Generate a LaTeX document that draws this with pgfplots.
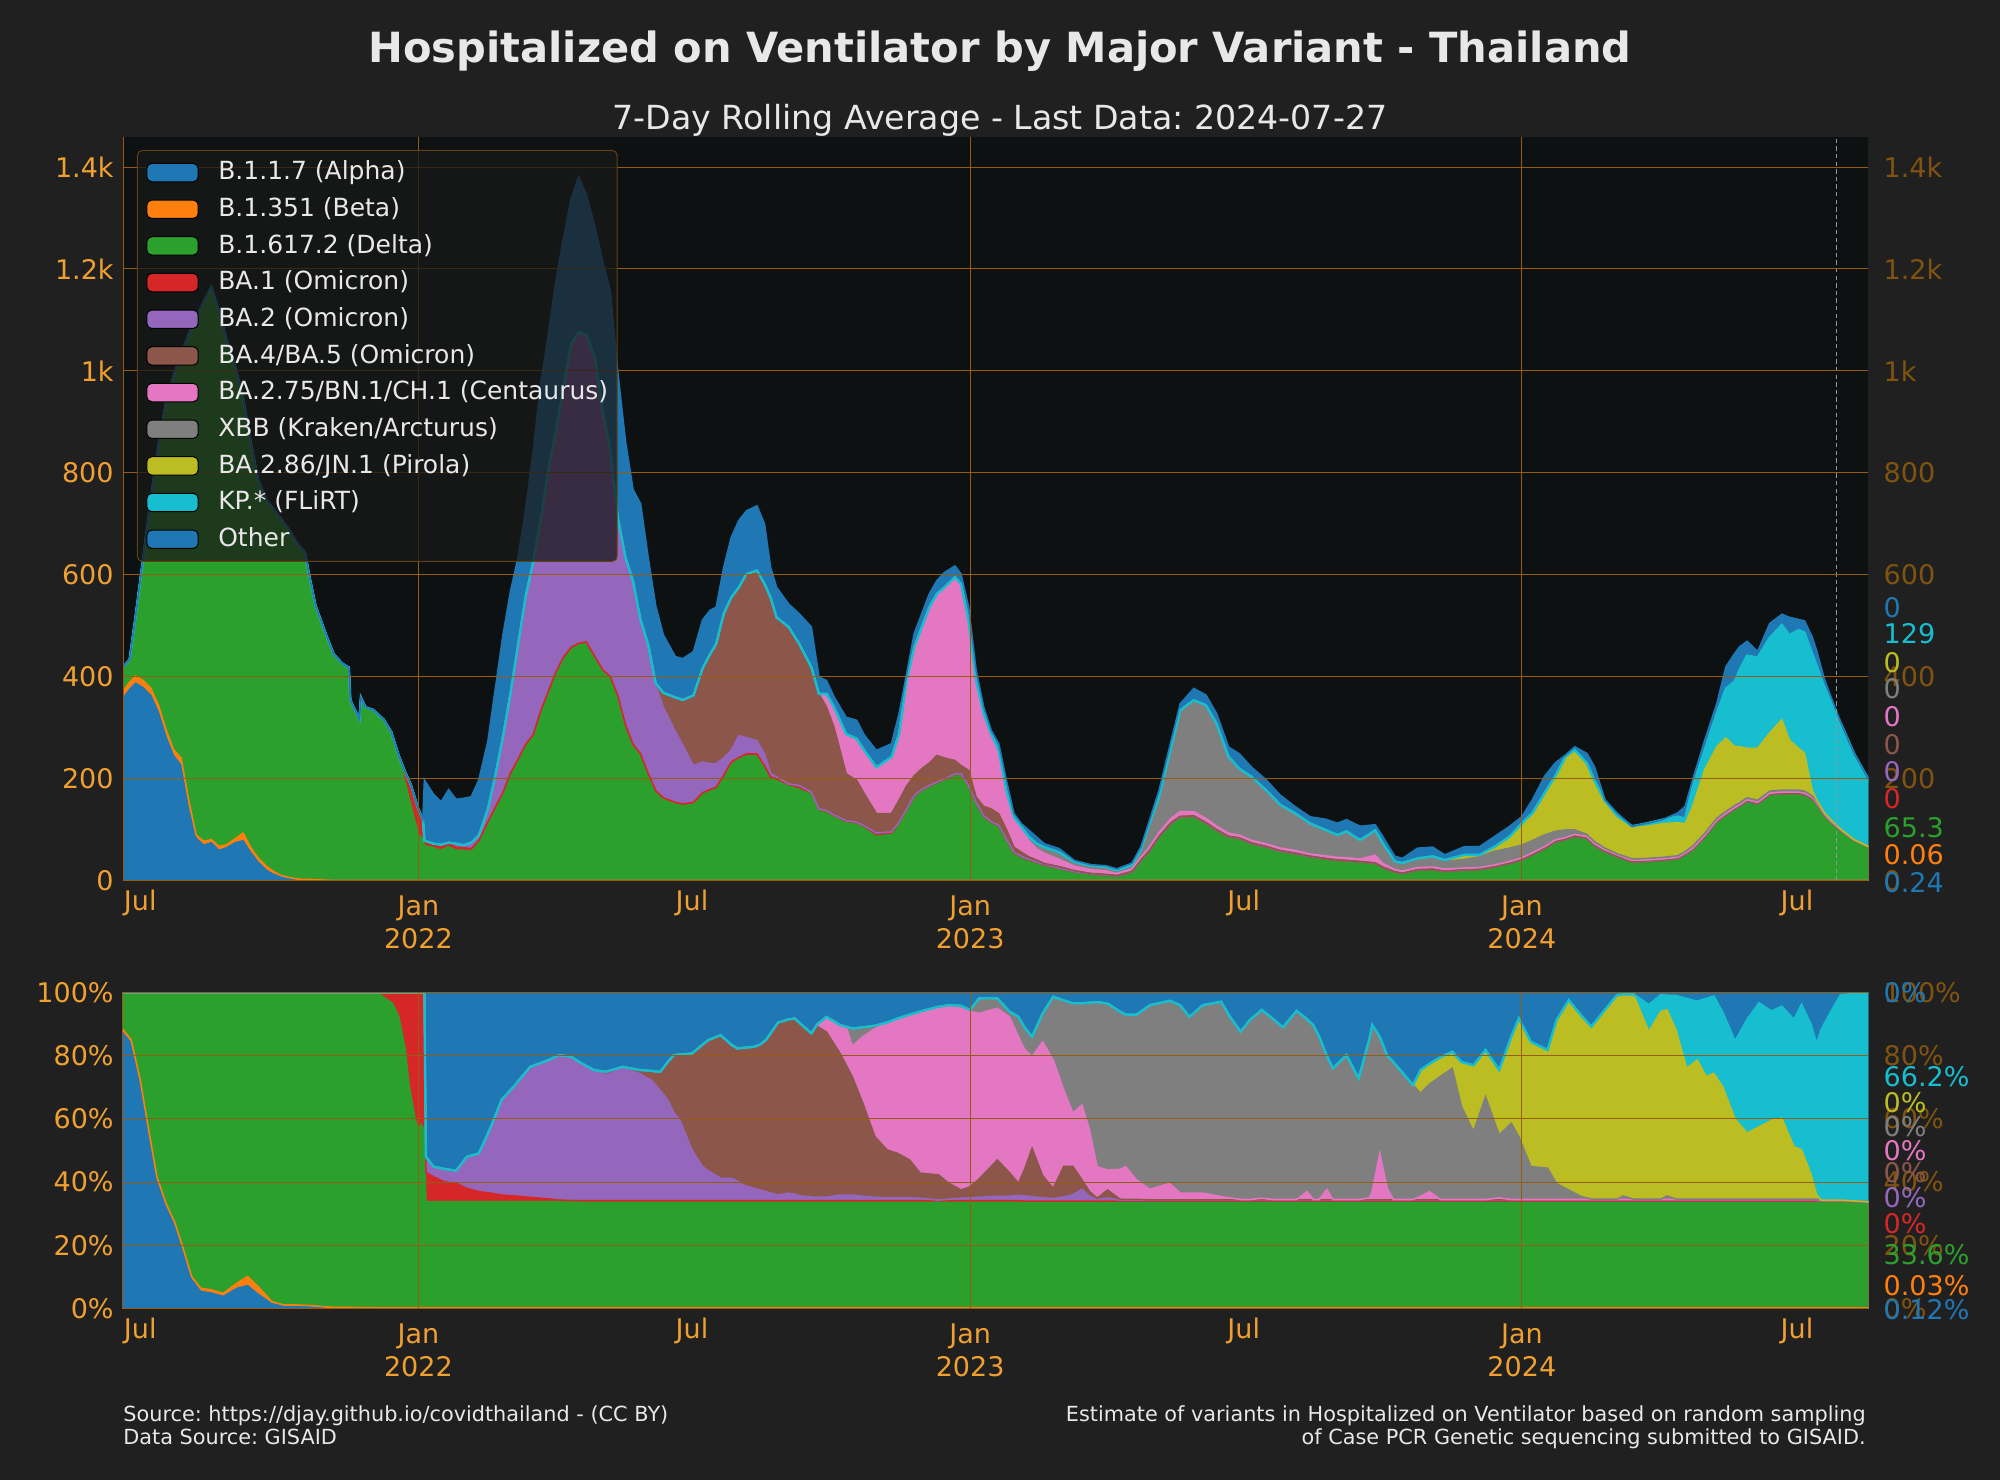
\documentclass[border=0pt]{standalone}
\usepackage{fontspec}
\setmainfont{DejaVu Sans}
\usepackage{pgfplots}
\usepackage{pgfplotstable}
\pgfplotsset{compat=1.18}
\frenchspacing

\definecolor{figbg}{RGB}{32,32,32}
\definecolor{plotbg}{RGB}{13,17,17}
\definecolor{tickor}{RGB}{240,160,48}
\definecolor{tickbr}{RGB}{128,84,16}
\definecolor{gridor}{RGB}{150,92,20}
\definecolor{txt}{RGB}{232,232,232}
\definecolor{legbd}{RGB}{95,65,20}
\definecolor{legbg}{RGB}{25,25,25}
\definecolor{dashc}{RGB}{150,150,150}
\definecolor{cAlpha}{HTML}{1F77B4}
\definecolor{cBeta}{HTML}{FF7F0E}
\definecolor{cDelta}{HTML}{2CA02C}
\definecolor{cBAone}{HTML}{D62728}
\definecolor{cBAtwo}{HTML}{9467BD}
\definecolor{cBAfour}{HTML}{8C564B}
\definecolor{cCent}{HTML}{E377C2}
\definecolor{cXBB}{HTML}{7F7F7F}
\definecolor{cPir}{HTML}{BCBD22}
\definecolor{cKP}{HTML}{17BECF}
\definecolor{cOther}{HTML}{1F77B4}

% days since 2022-01-01 ; hospitalized on ventilator (7-day avg) per variant
\pgfplotstableread{
d alpha beta delta ba1 ba2 ba45 ba275 xbb jn1 kp other
-196 354 14 48 0 0 0 0 0 0 0 0
-191 375 14 45 0 0 0 0 0 0 0 0
-187 387 14 119 0 0 0 0 0 0 0 0
-182 378 14 242 0 0 0 0 0 0 0 0
-177 363 14 371 0 0 0 0 0 0 0 0
-172 330 14 509 0 0 0 0 0 0 0 0
-167 282 14 642 0 0 0 0 0 0 0 0
-162 245 12 733 0 0 0 0 0 0 0 0
-157 226 14 790 0 0 0 0 0 0 0 0
-152 140 18 913 0 0 0 0 0 0 0 0
-147 83 6 1016 0 0 0 0 0 0 0 0
-142 69 8 1058 0 0 0 0 0 0 0 0
-137 74 6 1084 0 0 0 0 0 0 0 0
-132 59 8 1052 0 0 0 0 0 0 0 0
-127 64 6 992 0 0 0 0 0 0 0 0
-121 74 8 923 0 0 0 0 0 0 0 0
-116 78 15 855 0 0 0 0 0 0 0 0
-111 55 10 797 0 0 0 0 0 0 0 0
-106 36 8 742 0 0 0 0 0 0 0 0
-101 21 8 719 0 0 0 0 0 0 0 0
-96 12 6 711 0 0 0 0 0 0 0 0
-91 7 3 700 0 0 0 0 0 0 0 0
-86 4 2 684 0 0 0 0 0 0 0 0
-80 2 1 657 0 0 0 0 0 0 0 0
-75 1 1 642 0 0 0 0 0 0 0 0
-72 1 1 594 0 0 0 0 0 0 0 0
-68 0.5 1 537.5 0 0 0 0 0 0 0 0
-61 0 0.5 481.5 0 0 0 0 0 0 0 0
-56 0 0.3 443.7 0 0 0 0 0 0 0 0
-50 0 0.3 424.7 0 0 0 0 0 0 0 0
-46 0 0.3 417.7 0 0 0 0 0 0 0 0
-45 0 0.3 353.7 0 0 0 0 0 0 0 0
-39 0 0.3 315.7 0 0 0 0 0 0 0 0
-38 0 0.3 358.7 0 0 0 0 0 0 0 0
-35 0 0.3 339.7 0 0 0 0 0 0 0 0
-30 0 0.3 334.7 0 0 0 0 0 0 0 0
-23 0 0.3 315.7 0 0 0 0 0 0 0 0
-18 0 0.3 291.7 0 0 0 0 0 0 0 0
-13 0 0.3 241.7 3 0 0 0 0 0 0 0
-9 0 0.3 194.7 20 0 0 0 0 0 0 0
-5 0 0.3 147.7 40 0 0 0 0 0 0 0
0 0 0.3 89.7 50 0 0 0 0 0 0 0
3 0 0.3 80.7 40 0 0 0 0 0 0 0
4 0.2 0.1 68 8 2 0 0 0 0 0 119
10 0.2 0.1 64 6 2 0 0 0 0 0 97
15 0.2 0.1 59 6 5 0 0 0 0 0 84
20 0.2 0.1 66 6 2 0 0 0 0 0 104
25 0.2 0.1 59 6 7 0 0 0 0 0 87
30 0.2 0.1 59 5 5 0 0 0 0 0 92
35 0.2 0.1 57 5 12 0 0 0 0 0 90
40 0.2 0.1 74 4 10 0 0 0 0 0 109
46 0.2 0.1 111 4 25 0 0 0 0 0 133
51 0.2 0.1 140 4 63 0 0 0 0 0 171
56 0.2 0.1 169 4 110 0 0 0 0 0 199
61 0.2 0.1 207 4 157 0 0 0 0 0 200
66 0.2 0.1 235 3 225 0 0 0 0 0 171
71 0.2 0.1 264 3 291 0 0 0 0 0 171
76 0.2 0.1 283 3 339 0 0 0 0 0 218
81 0.2 0.1 330 3 377 0 0 0 0 0 266
86 0.2 0.1 368 3 434 0 0 0 0 0 266
91 0.2 0.1 406 3 472 0 0 0 0 0 295
96 0.2 0.1 435 3 529 0 0 0 0 0 294
101 0.2 0.1 454 3 595 0 0 0 0 0 285
106 0.2 0.1 462 3 611 0 0 0 0 0 304
111 0.2 0.1 465 3 602 0 0 0 0 0 277
117 0.2 0.1 435 3 586 0 0 0 0 0 256
122 0.2 0.1 410 3 506 0 0 0 0 0 295
127 0.2 0.1 397 3 443 0 0 0 0 0 314
132 0.2 0.1 359 3 348 0 0 0 0 0 285
137 0.2 0.1 302 3 329 0 0 0 0 0 228
142 0.2 0.1 264 3 320 0 0 0 0 0 180
147 0.2 0.1 245 3 263 0 0 0 0 0 228
152 0.2 0.1 207 3 253 0 0 0 0 0 171
157 0.2 0.1 173 3 206 5 0 0 0 0 152
162 0.2 0.1 159 3 178 28 0 0 0 0 114
170 0.2 0.1 150 3 139 67 0 0 0 0 80
175 0.2 0.1 147 3 115 89 0 0 0 0 81
182 0.2 0.1 150 3 72 138 0 0 0 0 86
188 0.2 0.1 169 3 60 184 0 0 0 0 95
193 0.2 0.1 175 3 51 215 0 0 0 0 86
197 0.2 0.1 180 3 46 235 0 0 0 0 72
202 0.2 0.1 203 3 34 283 0 0 0 0 91
207 0.2 0.1 229 3 23 300 0 0 0 0 118
212 0.2 0.1 238 3 43 291 0 0 0 0 131
217 0.2 0.1 245 3 32 321 0 0 0 0 124
224 0.2 0.1 245 3 26 334 0 0 0 0 127
229 0.2 0.1 222 3 23 334 0 0 0 0 117
233 0.2 0.1 200 3 7 345 0 0 0 0 59
237 0.2 0.1 196 3 4 313 0 0 0 0 59
245 0.2 0.1 186 2 1 308 0 0 0 0 45
252 0.2 0.1 180 2 4 278 0 0 0 0 59
260 0.2 0.1 170 2 1 245 0 0 0 0 79
265 0.2 0.1 137 2 1 226 0 0 0 0 33
270 0.2 0.1 134 2 1 203 26 0 0 0 26
275 0.2 0.1 125 2 1 172 40 0 0 0 20
283 0.2 0.1 114 2 1 92 78 0 0 0 33
290 0.2 0.1 111 2 1 82 82 0 0 0 36
295 0.2 0.1 104 2 1 63 85 0 0 0 30
303 0.2 0.1 88 2 3 38 91 0 0 0 33
313 0.2 0.1 91 2 2 36 111 0 0 0 26
318 0.2 0.1 111 2 1 43 130 0 0 0 40
323 0.2 0.1 137 2 1 45 207 0 0 0 13
328 0.2 0.1 163 2 1 39 252 0 0 0 27
333 0.2 0.1 175 2 1 41 278 0 0 0 26
338 0.2 0.1 183 2 1 44 306 0 0 0 26
343 0.2 0.1 190 2 1 52 317 0 0 0 26
348 0.2 0.1 196 2 1 41 335 0 0 0 29
355 0.2 0.1 206 2 1 26 360 0 0 0 22
359 0.2 0.1 206 2 1 16 357 0 0 0 19
364 0.2 0.1 183 2 1 30 294 0 0 0 26
369 0.2 0.1 150 2 1 10 229 0 0 0 20
374 0.2 0.1 124 2 1 18 182 0 0 0 13
379 0.2 0.1 112 2 1 25 147 0 0 0 7
384 0.2 0.1 105 2 1 22 125 0 0 0 13
389 0.2 0.1 78 2 1 19 76 0 0 0 20
394 0.2 0.1 52 2 1 10 59 0 0 0 7
399 0.2 0.1 45 1 1 8 45 5 0 0 6
404 0.2 0.1 39 1 1 5 31 8 0 0 13
409 0.2 0.1 34 1 1 4 22 10 0 0 13
414 0.2 0.1 29 1 1 2 20 12 0 0 7
424 0.2 0.1 23 0.5 0.5 3 14 14 0 0 7
434 0.2 0.1 16 0.5 0.5 2 9 8 0 0 3
445 0.2 0.1 12 0.3 0.3 1 7 8 0 0 2
455 0.2 0.1 10 0.3 0.3 1 7 8 0 0 2
462 0.2 0.1 8 0.3 0.3 1 4 6 0 0 3
472 0.2 0.1 16 0.3 0.3 1 5 7 0 0 4
478 0.2 0.1 39 0.3 0.3 1 5 14 0 0 6
483 0.2 0.1 55 0.3 0.3 1 6 43 0 0 6
490 0.2 0.1 85 0.3 0.3 1 7 70 0 0 13
498 0.2 0.1 112 0.3 0.3 1 8 140 0 0 13
504 0.2 0.1 124 0.3 0.3 1 9 199 0 0 13
513 0.2 0.1 125 0.3 0.3 1 8 219 0 0 23
521 0.2 0.1 112 0.3 0.3 1 8 222 0 0 20
528 0.2 0.1 98 0.3 0.3 1 7 201 0 0 20
536 0.2 0.1 85 0.3 0.3 1 6 150 0 0 19
543 0.2 0.1 82 0.3 0.3 1 5 131 0 0 29
551 0.2 0.1 72 0.3 0.3 1 5 125 0 0 19
561 0.2 0.1 65 0.3 0.3 1 5 105 0 0 20
570 0.2 0.1 57 0.3 0.3 1 5 85 0 0 19
580 0.2 0.1 52 0.3 0.3 1 5 73 0 0 13
590 0.2 0.1 46 0.3 0.3 1 4 60 0 0 13
600 0.2 0.1 42 0.3 0.3 0.5 5 51 0 0 21
608 0.2 0.1 39 0.3 0.3 0.5 5 44 0 0 23
614 0.2 0.1 38 0.3 0.3 0.5 5 52 0 0 23
623 0.2 0.1 36 0.3 0.3 0.5 5 37 0 0 27
633 0.2 0.1 33 0.3 0.3 0.5 15 49 0 0 11
638 0.2 0.1 25 0.3 0.3 0.5 7 40 0 0 13
646 0.2 0.1 16 0.3 0.3 0.5 4 16 0 0 10
651 0.2 0.1 13 0.3 0.3 0.5 4 16 0 0 9
661 0.2 0.1 20 0.3 0.3 0.5 4 16 2 0 20
671 0.2 0.1 21 0.3 0.3 0.5 4 18 3 0 18
679 0.2 0.1 17 0.3 0.3 0.5 4 15 3 0 10
692 0.2 0.1 20 0.3 0.3 0.5 3 17 9 0 16
702 0.2 0.1 21 0.3 0.3 0.5 3 21 4 0 16
712 0.2 0.1 26 0.3 0.3 0.5 3 27 9 0 20
722 0.2 0.1 33 0.3 0.3 0.5 3 26 23 0 20
730 0.2 0.1 40 0.3 0.3 0.5 3 25 43 0 13
737 0.2 0.1 50 0.3 0.3 0.5 3 24 54 0 26
745 0.2 0.1 62 0.3 0.3 0.5 3 23 82 0 33
752 0.2 0.1 75 0.3 0.3 0.5 3 17 108 0 26
759 0.2 0.1 80 0.3 0.3 0.5 3 15 144 0 3
765 0.2 0.1 86 0.3 0.3 0.5 3 9 157 0 6
773 0.2 0.1 82 0.3 0.3 0.5 3 4 140 0 19
778 0.2 0.1 68 0.3 0.3 0.5 3 4 120 0 27
785 0.2 0.1 56 0.3 0.3 0.5 3 3 93 0 2
793 0.2 0.1 46 0.3 0.3 0.5 3 2 75 0 5
803 0.2 0.1 36 0.3 0.3 0.5 2 3 62 2 0
813 0.2 0.1 37 0.3 0.3 0.5 2 3 63 6 0
823 0.2 0.1 39 0.3 0.3 0.5 2 3 66 8 0
833 0.2 0.1 42 0.3 0.3 0.5 2 3 65 12 7
838 0.2 0.1 50 0.3 0.3 0.5 2 3 55 10 24
843 0.2 0.1 60 0.3 0.3 0.5 2 4 78 39 13
851 0.2 0.1 85 0.3 0.3 0.5 2 4 125 39 19
859 0.2 0.1 115 0.3 0.3 0.5 2 4 140 66 19
865 0.2 0.1 128 0.3 0.3 0.5 2 4 144 97 43
871 0.2 0.1 140 0.3 0.3 0.5 2 4 115 129 55
874 0.2 0.1 145 0.3 0.3 0.5 2 4 110 151 45
879 0.2 0.1 155 0.3 0.3 0.5 2 4 97 182 28
886 0.2 0.1 150 0.3 0.3 0.5 2 4 102 178 12
894 0.2 0.1 168 0.3 0.3 0.5 2 4 114 187 28
902 0.2 0.1 170 0.3 0.3 0.5 2 4 138 186 21
907 0.2 0.1 170 0.3 0.3 0.5 2 4 98 206 35
913 0.2 0.1 170 0.3 0.3 0.5 2 4 82 232 21
917 0.2 0.1 168 0.3 0.3 0.5 2 4 74 237 23
922 0.2 0.1 160 0.3 0.3 0.5 2 3 11 268 33
925 0.2 0.1 150 0.3 0.3 0.5 1 3 3 263 30
930 0.2 0.1 128 0.3 0.3 0.5 1 2 1 247 16
935 0.2 0.1 112 0.3 0.3 0.5 1 2 1 229 10
942 0.2 0.1 95 0.2 0.2 0.3 0.5 1 0.5 204 0.5
950 0.2 0.1 78 0.1 0.1 0.2 0.3 0.5 0.3 168 0.3
960 0.24 0.06 65.3 0 0 0 0.1 0.1 0.1 129 0.1
}\toptab

% share of each variant, percent
\pgfplotstableread{
d alpha beta delta ba1 ba2 ba45 ba275 xbb jn1 kp other
-196 87.5 1.1 11.4 0 0 0 0 0 0 0 0
-190 84.0 1.0 15.0 0 0 0 0 0 0 0 0
-184 71.3 1.0 27.7 0 0 0 0 0 0 0 0
-178 54.4 1.0 44.6 0 0 0 0 0 0 0 0
-173 40.7 1.0 58.3 0 0 0 0 0 0 0 0
-167 32.3 1.0 66.7 0 0 0 0 0 0 0 0
-161 26.0 1.0 73.0 0 0 0 0 0 0 0 0
-156 18.6 1.0 80.4 0 0 0 0 0 0 0 0
-150 9.1 1.0 89.9 0 0 0 0 0 0 0 0
-144 5.4 1.0 93.6 0 0 0 0 0 0 0 0
-137 4.9 1.0 94.1 0 0 0 0 0 0 0 0
-129 3.8 1.0 95.2 0 0 0 0 0 0 0 0
-120 6.4 1.6 92.0 0 0 0 0 0 0 0 0
-113 7.2 2.9 89.9 0 0 0 0 0 0 0 0
-106 4.5 2.4 93.1 0 0 0 0 0 0 0 0
-97 1.5 0.7 97.8 0 0 0 0 0 0 0 0
-89 0.8 0.3 98.9 0 0 0 0 0 0 0 0
-80 0.8 0.3 98.9 0 0 0 0 0 0 0 0
-70 0.4 0.5 99.1 0 0 0 0 0 0 0 0
-59 0.1 0.3 99.6 0 0 0 0 0 0 0 0
-25 0.1 0.1 99.0 0.8 0 0 0 0 0 0 0
-17 0.1 0.1 96.3 3.5 0 0 0 0 0 0 0
-13 0.1 0.1 92.1 7.7 0 0 0 0 0 0 0
-9 0.1 0.1 82.7 17.1 0 0 0 0 0 0 0
-6 0.1 0.1 70.0 29.8 0 0 0 0 0 0 0
-2 0.1 0.1 59.4 40.4 0 0 0 0 0 0 0
0 0.1 0.1 56.3 43.5 0 0 0 0 0 0 0
2 0.1 0.1 58.0 41.8 0 0 0 0 0 0 0
4 0.1 0.1 55.8 44.0 0 0 0 0 0 0 0
5 0.1 0.1 33.6 9.2 5.0 0 0 0 0 0 52.0
10 0.1 0.1 33.6 7.9 3.2 0 0 0 0 0 55.1
17 0.1 0.1 33.6 6.3 4.1 0 0 0 0 0 55.8
25 0.1 0.1 33.6 5.8 4.0 0 0 0 0 0 56.4
32 0.1 0.1 33.6 4.2 10.0 0 0 0 0 0 52.0
40 0.1 0.1 33.6 3.2 12.1 0 0 0 0 0 50.9
48 0.1 0.1 33.6 2.7 21.0 0 0 0 0 0 42.5
55 0.1 0.1 33.6 2.1 30.1 0 0 0 0 0 34.0
63 0.1 0.1 33.6 1.8 34.6 0 0 0 0 0 29.8
74 0.1 0.1 33.6 1.4 41.3 0 0 0 0 0 23.5
86 0.1 0.1 33.6 0.9 43.9 0 0 0 0 0 21.4
93 0.1 0.1 33.6 0.5 45.9 0 0 0 0 0 19.8
101 0.1 0.1 33.6 0.4 45.5 0 0 0 0 0 20.3
108 0.1 0.1 33.6 0.3 43.5 0 0 0 0 0 22.4
116 0.1 0.1 33.6 0.3 41.4 0 0 0 0 0 24.5
124 0.1 0.1 33.6 0.3 39.8 1.0 0 0 0 0 25.1
135 0.1 0.1 33.6 0.3 41.9 0.5 0 0 0 0 23.5
146 0.1 0.1 33.6 0.3 40.3 1.1 0 0 0 0 24.5
154 0.1 0.1 33.6 0.3 38.2 2.9 0 0 0 0 24.8
160 0.1 0.1 33.6 0.3 34.9 5.9 0 0 0 0 25.1
165 0.1 0.1 33.6 0.3 31.9 12.0 0 0 0 0 22.0
169 0.1 0.1 33.6 0.3 27.9 18.2 0 0 0 0 19.8
173 0.1 0.1 33.6 0.3 25.5 20.8 0 0 0 0 19.6
181 0.1 0.1 33.6 0.3 16.1 30.5 0 0 0 0 19.3
188 0.1 0.1 33.6 0.3 10.8 38.6 0 0 0 0 16.5
192 0.1 0.1 33.6 0.3 9.4 41.5 0 0 0 0 15.0
200 0.1 0.1 33.6 0.3 7.1 45.3 0 0 0 0 13.5
207 0.1 0.1 33.6 0.3 7.1 42.3 0 0 0 0 16.5
211 0.1 0.1 33.6 0.3 6.2 42.0 0 0 0 0 17.7
215 0.1 0.1 33.6 0.3 5.0 43.4 0 0 0 0 17.5
222 0.1 0.1 33.6 0.3 3.9 44.8 0 0 0 0 17.2
226 0.1 0.1 33.6 0.3 3.4 46.0 0 0 0 0 16.5
230 0.1 0.1 33.6 0.3 2.9 48.0 0 0 0 0 15.0
238 0.1 0.1 33.6 0.3 1.8 54.6 0 0 0 0 9.5
245 0.1 0.1 33.6 0.3 2.4 55.0 0 0 0 0 8.5
249 0.1 0.1 33.6 0.3 2.1 55.6 0 0 0 0 8.2
253 0.1 0.1 33.6 0.3 1.5 54.4 0 0 0 0 10.0
260 0.1 0.1 33.6 0.3 1.2 51.8 0 0 0 0 12.9
264 0.1 0.1 33.6 0.3 1.1 54.0 0.8 0 0 0 10.0
270 0.1 0.1 33.6 0.3 1.1 52.3 4.8 0 0 0 7.7
279 0.1 0.1 33.6 0.3 1.8 44.8 9.0 0 0 0 10.3
283 0.1 0.1 33.6 0.3 1.8 41.1 12.2 0 0 0 10.8
287 0.1 0.1 33.6 0.3 1.8 37.5 9.6 5.6 0 0 11.4
294 0.1 0.1 33.6 0.3 1.4 29.5 21.0 3.0 0 0 11.0
302 0.1 0.1 33.6 0.3 1.1 19.2 34.1 1.0 0 0 10.5
310 0.1 0.1 33.6 0.3 0.9 15.2 40.3 0 0 0 9.5
317 0.1 0.1 33.6 0.3 0.9 14.1 42.7 0 0 0 8.2
325 0.1 0.1 33.6 0.3 0.9 12.0 46.0 0 0 0 7.0
332 0.1 0.1 33.6 0.3 0.8 7.9 51.2 0 0 0 6.0
344 0.1 0.1 33.6 0.3 0.2 8.0 53.2 0 0 0 4.5
351 0.1 0.1 33.6 0.3 0.5 5.0 55.9 0.5 0 0 4.0
359 0.1 0.1 33.6 0.3 0.8 2.6 57.5 0.8 0 0 4.2
365 0.1 0.1 33.6 0.3 0.9 3.5 55.5 0.5 0 0 5.5
371 0.1 0.1 33.6 0.3 1.1 5.8 52.4 4.8 0 0 1.8
383 0.1 0.1 33.6 0.3 1.4 11.5 48.0 3.2 0 0 1.8
391 0.1 0.1 33.6 0.3 1.4 7.5 49.3 1.7 0 0 6.0
397 0.1 0.1 33.6 0.3 1.7 3.8 46.4 6.3 0 0 7.7
401 0.1 0.1 33.6 0.2 1.6 8.4 38.0 7.0 0 0 11.0
406 0.1 0.1 33.6 0.2 1.4 15.3 29.0 6.3 0 0 14.0
413 0.1 0.1 33.6 0.2 1.0 7.0 42.4 9.0 0 0 6.6
420 0.1 0.1 33.6 0.2 0.8 3.2 40.6 20.1 0 0 1.3
427 0.1 0.1 33.6 0.2 1.3 9.7 24.1 28.4 0 0 2.5
433 0.1 0.1 33.6 0.2 2.0 9.0 16.8 34.8 0 0 3.4
439 0.1 0.1 33.6 0.2 3.7 3.0 23.7 32.2 0 0 3.4
444 0.1 0.1 33.6 0.2 1.5 1.5 19.5 40.3 0 0 3.2
449 0.1 0.1 33.6 0.2 0.5 0.4 10.0 52.1 0 0 3.0
456 0.1 0.1 33.6 0.2 1.0 2.5 6.3 52.7 0 0 3.5
464 0.1 0.1 33.6 0.2 0.3 0.3 9.4 50.0 0 0 6.0
468 0.1 0.1 33.6 0.2 0.3 0.2 10.4 48.1 0 0 7.0
475 0.1 0.1 33.6 0.2 0.2 0.3 6.2 52.3 0 0 7.0
484 0.1 0.1 33.6 0.2 0.2 0.2 3.3 58.3 0 0 4.0
497 0.1 0.1 33.6 0.2 0.2 0.2 5.2 57.8 0 0 2.6
504 0.1 0.1 33.6 0.2 0.2 0.2 2.1 59.5 0 0 4.0
510 0.1 0.1 33.6 0.2 0.2 0.2 2.1 55.8 0 0 7.7
519 0.1 0.1 33.6 0.2 0.2 0.2 2.1 59.5 0 0 4.0
531 0.1 0.1 33.6 0.2 0.2 0.2 1.0 61.7 0 0 2.9
537 0.1 0.1 33.6 0.2 0.2 0.2 0.6 57.3 0 0 7.7
544 0.1 0.1 33.6 0.2 0.2 0.2 0.1 53.1 0 0 12.4
550 0.1 0.1 33.6 0.2 0.2 0.2 0.1 56.8 0 0 8.7
558 0.1 0.1 33.6 0.2 0.2 0.2 0.5 59.6 0 0 5.5
565 0.1 0.1 33.6 0.2 0.2 0.2 0.1 57.3 0 0 8.2
572 0.1 0.1 33.6 0.2 0.2 0.2 0.1 54.5 0 0 11.0
581 0.1 0.1 33.6 0.2 0.2 0.2 0.1 59.7 0 0 5.8
588 0.1 0.1 33.6 0.2 0.2 0.2 2.6 54.5 0 0 8.5
592 0.1 0.1 33.6 0.2 0.2 0.2 0.1 55.2 0 0 10.3
596 0.1 0.1 33.6 0.2 0.2 0.2 0.1 51.5 0 0 14.0
601 0.1 0.1 33.6 0.2 0.2 0.2 3.3 42.3 0 0 20.0
605 0.1 0.1 33.6 0.2 0.2 0.2 0.1 41.5 0 0 24.0
614 0.1 0.1 33.6 0.2 0.2 0.2 0.1 45.7 0 0 19.8
622 0.1 0.1 33.6 0.2 0.2 0.2 0.1 38.3 0 0 27.2
629 0.1 0.1 33.6 0.2 0.2 0.2 0.6 50.0 0 0 15.0
631 0.1 0.1 33.6 0.2 0.2 0.2 2.6 52.7 0 0 10.3
636 0.1 0.1 33.6 0.2 0.2 0.2 14.7 36.9 0 0 14.0
641 0.1 0.1 33.6 0.2 0.2 0.2 3.6 42.0 0 0 20.0
645 0.1 0.1 33.6 0.2 0.2 0.2 0.1 43.5 0 0 22.0
658 0.1 0.1 33.6 0.2 0.2 0.2 0.1 36.2 0 0 29.3
663 0.1 0.1 33.6 0.2 0.2 0.2 1.1 32.6 7.4 0 24.5
669 0.1 0.1 33.6 0.2 0.2 0.2 2.6 34.0 6.5 0 22.5
676 0.1 0.1 33.6 0.2 0.2 0.2 0.1 38.9 6.1 0 20.5
684 0.1 0.1 33.6 0.2 0.2 0.2 0.1 41.5 5.3 0 18.7
690 0.1 0.1 33.6 0.2 0.2 0.2 0.1 29.4 14.1 0 22.0
698 0.1 0.1 33.6 0.2 0.2 0.2 0.1 21.5 21.0 0 23.0
706 0.1 0.1 33.6 0.2 0.2 0.2 0.1 32.5 14.8 0 18.2
715 0.1 0.1 33.6 0.2 0.2 0.2 0.6 19.9 20.6 0 24.5
723 0.1 0.1 33.6 0.2 0.2 0.2 0.1 24.1 27.4 0 14.0
728 0.1 0.1 33.6 0.2 0.2 0.2 0.1 19.9 37.4 0 8.2
736 0.1 0.1 33.6 0.2 0.2 0.2 0.1 10.4 39.5 0 15.6
747 0.1 0.1 33.6 0.2 0.2 0.2 0.1 9.9 37.4 0 18.2
753 0.1 0.1 33.6 0.2 0.2 0.2 0.1 5.0 51.8 0 8.7
761 0.1 0.1 33.6 0.2 0.2 0.2 0.1 3.0 60.1 0 2.4
769 0.1 0.1 33.6 0.2 0.2 0.2 0.1 1.0 57.4 0 7.1
776 0.1 0.1 33.6 0.2 0.2 0.2 0.1 0.1 54.6 0 10.8
784 0.1 0.1 33.6 0.2 0.2 0.2 0.1 0.1 59.4 0 6.0
793 0.1 0.1 33.6 0.2 0.2 0.2 0.1 0.1 64.6 0 0.8
797 0.1 0.1 33.6 0.2 0.2 0.2 0.1 1.1 63.8 0 0.6
804 0.1 0.1 33.6 0.2 0.2 0.2 0.1 0.1 64.6 0.2 0.6
814 0.1 0.1 33.6 0.2 0.2 0.2 0.1 0.1 53.0 8.4 4.0
822 0.1 0.1 33.6 0.2 0.2 0.2 0.1 0.1 59.4 5.2 0.8
826 0.1 0.1 33.6 0.2 0.2 0.2 0.1 1.1 58.9 4.5 1.0
832 0.1 0.1 33.6 0.2 0.2 0.2 0.1 0.1 53.5 10.8 1.1
839 0.1 0.1 33.6 0.2 0.2 0.2 0.1 0.1 41.4 22.0 2.0
846 0.1 0.1 33.6 0.2 0.2 0.2 0.1 0.1 44.0 18.5 2.9
852 0.1 0.1 33.6 0.2 0.2 0.2 0.1 0.1 38.8 24.6 2.0
857 0.1 0.1 33.6 0.2 0.2 0.2 0.1 0.1 39.8 24.3 1.3
863 0.1 0.1 33.6 0.2 0.2 0.2 0.1 0.1 35.4 23.4 6.6
871 0.1 0.1 33.6 0.2 0.2 0.2 0.1 0.1 25.4 24.4 15.6
879 0.1 0.1 33.6 0.2 0.2 0.2 0.1 0.1 20.9 35.8 8.7
887 0.1 0.1 33.6 0.2 0.2 0.2 0.1 0.1 22.9 39.1 3.4
895 0.1 0.1 33.6 0.2 0.2 0.2 0.1 0.1 24.9 34.5 6.0
902 0.1 0.1 33.6 0.2 0.2 0.2 0.1 0.1 25.6 35.3 4.5
910 0.1 0.1 33.6 0.2 0.2 0.2 0.1 0.1 16.6 40.1 8.7
915 0.1 0.1 33.6 0.2 0.2 0.2 0.1 0.1 15.6 45.8 4.0
921 0.1 0.1 33.6 0.2 0.2 0.2 0.1 0.1 8.2 47.2 10.0
925 0.1 0.1 33.6 0.2 0.2 0.2 0.1 0.1 1.4 47.4 16.6
928 0.1 0.1 33.6 0.1 0.1 0.1 0.05 0.05 0.1 53.7 12.0
934 0.1 0.1 33.6 0.1 0.1 0.1 0.05 0.05 0.1 59.1 6.6
941 0.1 0.1 33.6 0.1 0.1 0.1 0.05 0.05 0.1 64.9 0.8
960 0.12 0.03 33.6 0 0 0 0 0 0 66.2 0.05
}\bottab

\newcommand{\mkcum}[1]{%
\pgfplotstablecreatecol[create col/expr={\thisrow{alpha}}]{cA}#1%
\pgfplotstablecreatecol[create col/expr={\thisrow{cA}+\thisrow{beta}}]{cB}#1%
\pgfplotstablecreatecol[create col/expr={\thisrow{cB}+\thisrow{delta}}]{cG}#1%
\pgfplotstablecreatecol[create col/expr={\thisrow{cG}+\thisrow{ba1}}]{cR}#1%
\pgfplotstablecreatecol[create col/expr={\thisrow{cR}+\thisrow{ba2}}]{cP}#1%
\pgfplotstablecreatecol[create col/expr={\thisrow{cP}+\thisrow{ba45}}]{cF}#1%
\pgfplotstablecreatecol[create col/expr={\thisrow{cF}+\thisrow{ba275}}]{cC}#1%
\pgfplotstablecreatecol[create col/expr={\thisrow{cC}+\thisrow{xbb}}]{cX}#1%
\pgfplotstablecreatecol[create col/expr={\thisrow{cX}+\thisrow{jn1}}]{cO}#1%
\pgfplotstablecreatecol[create col/expr={\thisrow{cO}+\thisrow{kp}}]{cK}#1%
\pgfplotstablecreatecol[create col/expr={\thisrow{cK}+\thisrow{other}}]{cT}#1%
}
\mkcum{\toptab}
\mkcum{\bottab}

\pgfplotsset{
  lay/.style={fill=#1, draw=none, forget plot},
  edge/.style={draw=#1, line width=0.8pt, forget plot},
  base/.style={
    scale only axis, width=872.65pt, xmin=-195.4, xmax=959.2,
    axis background/.style={fill=plotbg},
    axis line style={draw=none},
    major tick length=0pt,
    tick style={draw=none},
    axis on top,
    ymajorgrids,
    major grid style={draw=gridor, line width=0.5pt},
    tick label style={font=\fontsize{13.5}{16.5}\selectfont, text=tickor},
    xtick={-184,181,546,912}, xticklabels={Jul,Jul,Jul,Jul},
    extra x ticks={0,365,730},
    extra x tick labels={Jan\\2022,Jan\\2023,Jan\\2024},
    extra x tick style={grid=major, xticklabel style={align=center, yshift=-3pt}},
    xticklabel style={inner sep=0pt, yshift=-4.5pt},
    yticklabel style={inner sep=0pt, xshift=-4.5pt},
    clip mode=individual,
  },
  rightax/.style={
    scale only axis, width=872.65pt, xmin=-195.4, xmax=959.2,
    hide x axis, axis y line*=right,
    axis line style={draw=none}, major tick length=0pt, tick style={draw=none},
    tick label style={font=\fontsize{13.5}{16.5}\selectfont, text=tickbr},
    yticklabel style={inner sep=0pt, xshift=7.5pt},
  },
}
\tikzset{vl/.style={anchor=west, xshift=7.5pt, inner sep=0pt, font=\fontsize{13.5}{16.5}\selectfont}}

\newcommand{\drawlayers}[1]{%
\addplot[lay=cOther] table[x=d,y=cT]{#1}\closedcycle;
\addplot[lay=cKP] table[x=d,y=cK]{#1}\closedcycle;
\addplot[lay=cPir] table[x=d,y=cO]{#1}\closedcycle;
\addplot[lay=cXBB] table[x=d,y=cX]{#1}\closedcycle;
\addplot[lay=cCent] table[x=d,y=cC]{#1}\closedcycle;
\addplot[lay=cBAfour] table[x=d,y=cF]{#1}\closedcycle;
\addplot[lay=cBAtwo] table[x=d,y=cP]{#1}\closedcycle;
\addplot[lay=cBAone] table[x=d,y=cR]{#1}\closedcycle;
\addplot[lay=cDelta] table[x=d,y=cG]{#1}\closedcycle;
\addplot[lay=cBeta] table[x=d,y=cB]{#1}\closedcycle;
\addplot[lay=cAlpha] table[x=d,y=cA]{#1}\closedcycle;
\addplot[edge=cAlpha] table[x=d,y=cA]{#1};
\addplot[edge=cBeta] table[x=d,y=cB]{#1};
\addplot[edge=cDelta] table[x=d,y=cG]{#1};
\addplot[edge=cBAone] table[x=d,y=cR]{#1};
\addplot[edge=cBAtwo] table[x=d,y=cP]{#1};
\addplot[edge=cBAfour] table[x=d,y=cF]{#1};
\addplot[edge=cCent] table[x=d,y=cC]{#1};
\addplot[edge=cXBB] table[x=d,y=cX]{#1};
\addplot[edge=cPir] table[x=d,y=cO]{#1};
\addplot[edge=cKP, line width=1.2pt] table[x=d,y=cK]{#1};
\addplot[edge=cOther] table[x=d,y=cT]{#1};
}

\begin{document}
\begin{tikzpicture}
\fill[figbg] (0,0) rectangle (1000pt,740pt);

% ---------- right-hand tick labels (top) ----------
\begin{axis}[rightax, at={(61.5pt,299.75pt)}, anchor=south west, height=371.5pt,
  ymin=0, ymax=1458, ytick={0,200,400,600,800,1000,1200,1400},
  yticklabels={0,200,400,600,800,1k,1.2k,1.4k}]
\addplot[draw=none, forget plot] coordinates {(0,0)};
\end{axis}

% ---------- top chart ----------
\begin{axis}[base, at={(61.5pt,299.75pt)}, anchor=south west, height=371.5pt,
  ymin=0, ymax=1458, ytick={0,200,400,600,800,1000,1200,1400},
  yticklabels={0,200,400,600,800,1k,1.2k,1.4k},
  legend image code/.code={\fill[#1, fill opacity=1] (0pt,-4.6pt) rectangle (25.7pt,4.6pt);},
  legend cell align=left,
  legend style={at={(0,1)}, anchor=north west, xshift=6.9pt, yshift=-6.25pt,
    fill=legbg, fill opacity=0.75, text opacity=1, draw opacity=1,
    draw=legbd, line width=0.5pt, rounded corners=2.5pt,
    font=\fontsize{12.5}{14.5}\selectfont, text=txt,
    inner xsep=4.5pt, inner ysep=4.8pt, row sep=5.83pt,
    nodes={inner sep=0pt, text height=9.9pt, text depth=2.6pt},
    /tikz/every odd column/.append style={column sep=9.8pt}},
]
\addlegendimage{fill=cAlpha}\addlegendentry{B.1.1.7 (Alpha)}
\addlegendimage{fill=cBeta}\addlegendentry{B.1.351 (Beta)}
\addlegendimage{fill=cDelta}\addlegendentry{B.1.617.2 (Delta)}
\addlegendimage{fill=cBAone}\addlegendentry{BA.1 (Omicron)}
\addlegendimage{fill=cBAtwo}\addlegendentry{BA.2 (Omicron)}
\addlegendimage{fill=cBAfour}\addlegendentry{BA.4/BA.5 (Omicron)}
\addlegendimage{fill=cCent}\addlegendentry{BA.2.75/BN.1/CH.1 (Centaurus)}
\addlegendimage{fill=cXBB}\addlegendentry{XBB (Kraken/Arcturus)}
\addlegendimage{fill=cPir}\addlegendentry{BA.2.86/JN.1 (Pirola)}
\addlegendimage{fill=cKP}\addlegendentry{KP.* (FLiRT)}
\addlegendimage{fill=cOther}\addlegendentry{Other}
\drawlayers{\toptab}
\addplot[forget plot, draw=dashc, line width=0.7pt, dash pattern=on 2.2pt off 1.6pt] coordinates {(938,0) (938,1458)};
\draw[gridor, line width=0.5pt] (rel axis cs:0,0) -- (rel axis cs:0,1);
\node[vl, text=cOther] at (axis cs:959.2,535.8) {0};
\node[vl, text=cKP] at (axis cs:959.2,484) {129};
\node[vl, text=cPir] at (axis cs:959.2,428) {0};
\node[vl, text=cXBB] at (axis cs:959.2,376) {0};
\node[vl, text=cCent] at (axis cs:959.2,321.5) {0};
\node[vl, text=cBAfour] at (axis cs:959.2,266.6) {0};
\node[vl, text=cBAtwo] at (axis cs:959.2,214) {0};
\node[vl, text=cBAone] at (axis cs:959.2,160.7) {0};
\node[vl, text=cDelta] at (axis cs:959.2,104.5) {65.3};
\node[vl, text=cBeta] at (axis cs:959.2,51) {0.06};
\node[vl, text=cAlpha] at (axis cs:959.2,-3.3) {0.24};
\end{axis}

% ---------- right-hand tick labels (bottom) ----------
\begin{axis}[rightax, at={(61.5pt,85.75pt)}, anchor=south west, height=158pt,
  ymin=0, ymax=100, ytick={0,20,40,60,80,100},
  yticklabels={0\%,20\%,40\%,60\%,80\%,100\%}]
\addplot[draw=none, forget plot] coordinates {(0,0)};
\end{axis}

% ---------- bottom chart ----------
\begin{axis}[base, at={(61.5pt,85.75pt)}, anchor=south west, height=158pt,
  ymin=0, ymax=100, ytick={0,20,40,60,80,100},
  yticklabels={0\%,20\%,40\%,60\%,80\%,100\%}]
\drawlayers{\bottab}
\draw[gridor, line width=0.5pt] (rel axis cs:0,0) -- (rel axis cs:0,1);
\node[vl, text=cOther] at (axis cs:959.2,99.8) {0\%};
\node[vl, text=cKP] at (axis cs:959.2,73.3) {66.2\%};
\node[vl, text=cPir] at (axis cs:959.2,65.0) {0\%};
\node[vl, text=cXBB] at (axis cs:959.2,57.7) {0\%};
\node[vl, text=cCent] at (axis cs:959.2,49.8) {0\%};
\node[vl, text=cBAfour] at (axis cs:959.2,42.9) {0\%};
\node[vl, text=cBAtwo] at (axis cs:959.2,35.0) {0\%};
\node[vl, text=cBAone] at (axis cs:959.2,26.8) {0\%};
\node[vl, text=cDelta] at (axis cs:959.2,16.9) {33.6\%};
\node[vl, text=cBeta] at (axis cs:959.2,7.1) {0.03\%};
\node[vl, text=cAlpha] at (axis cs:959.2,-0.4) {0.12\%};
\end{axis}

% ---------- titles and footer ----------
\node[anchor=base, text=txt, font=\fontsize{20.8}{25}\selectfont\bfseries] at (500pt,708.6pt) {Hospitalized on Ventilator by Major Variant - Thailand};
\node[anchor=base, text=txt, font=\fontsize{16.6}{19}\selectfont] at (500pt,675.3pt) {7-Day Rolling Average - Last Data: 2024-07-27};
\node[anchor=base west, text=txt, font=\fontsize{10.4}{12}\selectfont, inner sep=0pt] at (61.5pt,29.15pt) {Source: https://djay.github.io/covidthailand - (CC BY)};
\node[anchor=base west, text=txt, font=\fontsize{10.4}{12}\selectfont, inner sep=0pt] at (61.5pt,18pt) {Data Source: GISAID};
\node[anchor=base east, text=txt, font=\fontsize{10.4}{12}\selectfont, inner sep=0pt] at (933pt,29.15pt) {Estimate of variants in Hospitalized on Ventilator based on random sampling};
\node[anchor=base east, text=txt, font=\fontsize{10.4}{12}\selectfont, inner sep=0pt] at (933pt,18pt) {of Case PCR Genetic sequencing submitted to GISAID.};
\end{tikzpicture}
\end{document}
